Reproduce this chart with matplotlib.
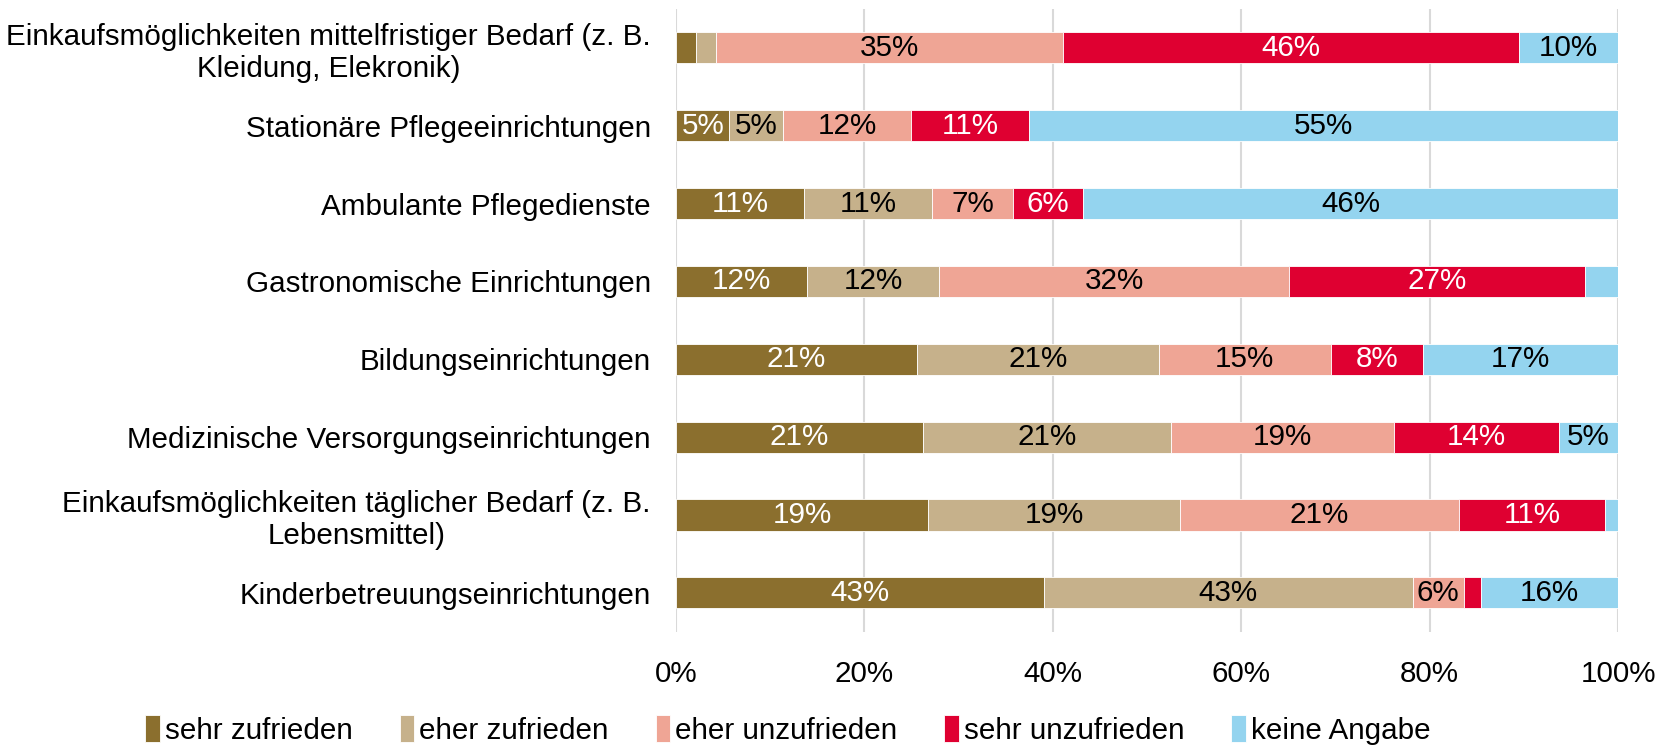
import matplotlib.pyplot as plt
import numpy as np

plt.rcParams['font.family'] = ['Liberation Sans', 'DejaVu Sans']

# Kategorien von oben nach unten
kategorien = [
    'Einkaufsmöglichkeiten mittelfristiger Bedarf (z. B.\nKleidung, Elekronik)',
    'Stationäre Pflegeeinrichtungen',
    'Ambulante Pflegedienste',
    'Gastronomische Einrichtungen',
    'Bildungseinrichtungen',
    'Medizinische Versorgungseinrichtungen',
    'Einkaufsmöglichkeiten täglicher Bedarf (z. B.\nLebensmittel)',
    'Kinderbetreuungseinrichtungen',
]

serien = ['sehr zufrieden', 'eher zufrieden', 'eher unzufrieden', 'sehr unzufrieden', 'keine Angabe']

# Werte in % (wie beschriftet), Balken werden auf 100% normiert
sehr_zufrieden   = [2, 5, 11, 12, 21, 21, 19, 43]
eher_zufrieden   = [2, 5, 11, 12, 21, 21, 19, 43]
eher_unzufrieden = [35, 12, 7, 32, 15, 19, 21, 6]
sehr_unzufrieden = [46, 11, 6, 27, 8, 14, 11, 2]
keine_angabe     = [10, 55, 46, 3, 17, 5, 1, 16]

farben = ['#8B6F2E', '#C6B18B', '#EFA595', '#DF0031', '#94D4EF']
textfarben = ['white', 'black', 'black', 'white', 'black']

werte = np.array([sehr_zufrieden, eher_zufrieden, eher_unzufrieden, sehr_unzufrieden, keine_angabe], dtype=float)
summe = werte.sum(axis=0)
anteile = werte / summe

fs = 21.3

fig = plt.figure(figsize=(16.69, 7.45), dpi=100)
ax = fig.add_axes([0.405, 0.152, 0.5645, 0.836])

y = np.arange(len(kategorien))
links = np.zeros(len(kategorien))
for i, name in enumerate(serien):
    ax.barh(y, anteile[i], left=links, height=0.4, color=farben[i],
            edgecolor='white', linewidth=0.6, label=name, zorder=3)
    for j in range(len(kategorien)):
        if werte[i, j] >= 5:
            ax.text(links[j] + anteile[i, j] / 2, y[j], '%d%%' % werte[i, j],
                    ha='center', va='center', fontsize=fs, color=textfarben[i], zorder=4)
    links += anteile[i]

ax.set_xlim(0, 1)
ax.set_ylim(len(kategorien) - 0.5, -0.5)
ax.set_xticks(np.arange(0, 1.01, 0.2))
ax.set_xticklabels(['%d%%' % (v * 100) for v in np.arange(0, 1.01, 0.2)], fontsize=fs)
ax.set_yticks(y)
ax.set_yticklabels(kategorien, fontsize=fs, multialignment='center')
ax.tick_params(axis='both', length=0)
ax.tick_params(axis='x', pad=20)
ax.tick_params(axis='y', pad=18)
ax.grid(axis='x', color='#D9D9D9', linewidth=1.5, zorder=0)
for s in ax.spines.values():
    s.set_visible(False)

fig.legend(loc='center', bbox_to_anchor=(0.472, 0.02), ncol=5, frameon=False,
           fontsize=fs, handlelength=0.5, handleheight=1.0, handletextpad=0.15,
           columnspacing=1.6)

plt.savefig('out.png', dpi=100)
